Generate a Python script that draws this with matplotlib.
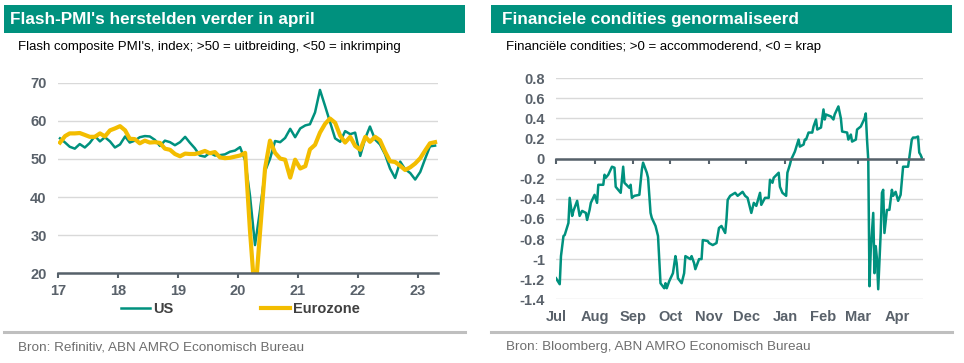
import matplotlib
matplotlib.use("Agg")
import matplotlib.pyplot as plt
import matplotlib.dates as mdates
from matplotlib.lines import Line2D
from matplotlib.patches import Rectangle
import numpy as np
import pandas as pd

plt.rcParams['font.family'] = ['Liberation Sans', 'DejaVu Sans']

# ---- data: flash composite PMI (monthly, jan 2017 - apr 2023)
pmi_us = [55.4, 54.3, 53.2, 52.7, 53.9, 53.0, 54.2, 56.0, 54.6, 55.7, 54.6, 53.0,
          53.8, 55.9, 54.3, 54.8, 55.7, 56.0, 55.9, 55.0, 53.4, 54.8, 54.4, 53.6,
          54.4, 55.8, 54.3, 52.8, 50.9, 50.6, 51.6, 50.9, 51.0, 51.2, 51.9, 52.2,
          53.1, 49.6, 40.5, 27.4, 36.4, 46.8, 50.0, 54.7, 54.4, 55.5, 57.9, 55.7,
          58.0, 58.8, 59.1, 62.2, 68.1, 63.9, 59.7, 55.4, 54.5, 57.3, 56.5, 56.9,
          50.8, 55.5, 58.5, 55.1, 53.8, 51.2, 47.5, 45.0, 49.3, 47.3, 46.3, 44.6,
          46.6, 50.2, 53.3, 53.5]
pmi_ez = [54.3, 56.0, 56.7, 56.7, 56.8, 56.3, 55.8, 55.8, 56.7, 55.9, 57.5, 58.0,
          58.6, 57.5, 55.3, 55.2, 54.1, 54.8, 54.3, 54.4, 54.2, 52.7, 52.4, 51.3,
          50.7, 51.4, 51.3, 51.3, 51.6, 52.1, 51.5, 51.8, 50.4, 50.2, 50.3, 50.6,
          50.9, 51.6, 31.4, 13.5, 30.5, 47.5, 54.8, 51.6, 50.1, 49.8, 45.1, 49.8,
          47.5, 48.1, 52.5, 53.7, 56.9, 59.2, 60.6, 59.5, 56.1, 54.3, 55.8, 53.4,
          52.4, 55.8, 54.5, 55.8, 54.9, 51.9, 49.4, 49.2, 48.2, 47.1, 47.8, 48.8,
          50.2, 52.3, 54.1, 54.4]
pmi_months = pd.date_range("2017-01-01", "2023-04-01", freq="MS") + pd.Timedelta(days=14)
pmi_years = [str(y) for y in range(2017, 2024)]
pmi_yticks = [20, 30, 40, 50, 60, 70]

# ---- data: financiele condities (jul 2022 - apr 2023)
fc_dates = ['2022-07-01', '2022-07-04', '2022-07-05', '2022-07-07', '2022-07-08', '2022-07-11',
            '2022-07-12', '2022-07-14', '2022-07-15', '2022-07-18', '2022-07-20', '2022-07-22',
            '2022-07-25', '2022-07-26', '2022-07-28', '2022-07-29', '2022-08-01', '2022-08-03',
            '2022-08-04', '2022-08-08', '2022-08-09', '2022-08-10', '2022-08-12', '2022-08-15',
            '2022-08-17', '2022-08-18', '2022-08-22', '2022-08-24', '2022-08-25', '2022-08-29',
            '2022-08-30', '2022-08-31', '2022-09-02', '2022-09-06', '2022-09-08', '2022-09-09',
            '2022-09-12', '2022-09-13', '2022-09-15', '2022-09-16', '2022-09-19', '2022-09-21',
            '2022-09-22', '2022-09-23', '2022-09-26', '2022-09-27', '2022-09-28', '2022-09-30',
            '2022-10-03', '2022-10-05', '2022-10-06', '2022-10-07', '2022-10-10', '2022-10-12',
            '2022-10-13', '2022-10-17', '2022-10-18', '2022-10-20', '2022-10-21', '2022-10-24',
            '2022-10-26', '2022-10-27', '2022-10-31', '2022-11-01', '2022-11-04', '2022-11-07',
            '2022-11-09', '2022-11-11', '2022-11-14', '2022-11-15', '2022-11-16', '2022-11-18',
            '2022-11-22', '2022-11-24', '2022-11-28', '2022-11-30', '2022-12-02', '2022-12-05',
            '2022-12-07', '2022-12-09', '2022-12-12', '2022-12-13', '2022-12-16', '2022-12-19',
            '2022-12-20', '2022-12-22', '2022-12-23', '2022-12-27', '2022-12-28', '2022-12-30',
            '2023-01-02', '2023-01-03', '2023-01-05', '2023-01-06', '2023-01-09', '2023-01-12',
            '2023-01-13', '2023-01-16', '2023-01-17', '2023-01-18', '2023-01-20', '2023-01-23',
            '2023-01-24', '2023-01-26', '2023-01-27', '2023-01-30', '2023-02-01', '2023-02-02',
            '2023-02-03', '2023-02-07', '2023-02-09', '2023-02-10', '2023-02-13', '2023-02-15',
            '2023-02-16', '2023-02-20', '2023-02-21', '2023-02-23', '2023-02-24', '2023-02-27',
            '2023-02-28', '2023-03-03', '2023-03-06', '2023-03-07', '2023-03-08', '2023-03-09',
            '2023-03-10', '2023-03-11', '2023-03-13', '2023-03-14', '2023-03-15', '2023-03-16',
            '2023-03-17', '2023-03-19', '2023-03-20', '2023-03-21', '2023-03-22', '2023-03-24',
            '2023-03-26', '2023-03-28', '2023-03-29', '2023-03-31', '2023-04-02', '2023-04-04',
            '2023-04-06', '2023-04-08', '2023-04-10', '2023-04-11', '2023-04-13', '2023-04-14',
            '2023-04-16', '2023-04-18', '2023-04-19', '2023-04-20', '2023-04-21']
fc_values = [-1.19, -1.25, -0.97, -0.77, -0.76, -0.64,
             -0.39, -0.57, -0.52, -0.42, -0.57, -0.52,
             -0.54, -0.61, -0.51, -0.44, -0.36, -0.44,
             -0.26, -0.26, -0.16, -0.19, -0.16, -0.08,
             -0.09, -0.28, -0.34, -0.08, -0.24, -0.29,
             -0.26, -0.39, -0.37, -0.36, -0.11, -0.04,
             -0.14, -0.19, -0.54, -0.59, -0.67, -0.77,
             -1.00, -1.24, -1.29, -1.24, -1.29, -1.22,
             -1.14, -0.97, -1.04, -1.19, -1.24, -1.14,
             -0.97, -1.00, -0.97, -1.04, -1.10, -1.00,
             -1.00, -0.81, -0.82, -0.84, -0.86, -0.84,
             -0.69, -0.67, -0.74, -0.61, -0.41, -0.37,
             -0.34, -0.37, -0.33, -0.37, -0.39, -0.54,
             -0.44, -0.47, -0.34, -0.46, -0.39, -0.39,
             -0.21, -0.24, -0.19, -0.14, -0.28, -0.34,
             -0.37, -0.14, -0.06, -0.01, 0.07, 0.19,
             0.12, 0.14, 0.19, 0.19, 0.26, 0.26,
             0.32, 0.39, 0.29, 0.31, 0.49, 0.39,
             0.44, 0.42, 0.39, 0.44, 0.52, 0.40,
             0.27, 0.26, 0.19, 0.24, 0.17, 0.19,
             0.29, 0.32, 0.40, 0.45, 0.19, -0.01,
             -1.27, -0.91, -0.54, -1.14, -0.87, -1.00,
             -1.30, -0.74, -0.34, -0.31, -0.74, -0.51,
             -0.51, -0.31, -0.37, -0.33, -0.42, -0.36,
             -0.08, -0.08, -0.08, 0.01, 0.19, 0.21,
             0.21, 0.22, 0.06, 0.04, 0.01]
fc_month_labels = ['Jul', 'Aug', 'Sep', 'Oct', 'Nov', 'Dec', 'Jan', 'Feb', 'Mar', 'Apr']
fc_yticks = [-1.4, -1.2, -1, -0.8, -0.6, -0.4, -0.2, 0, 0.2, 0.4, 0.6, 0.8]

# ---- styling
TEAL = '#00917E'
YELLOW = '#F3BD00'
AXIS = '#56616A'
TICKTXT = '#59616A'
GRID = '#D9D9D9'
SEP = '#BFBFBF'
TICKSIZE = 10.5

W, H = 964, 363
fig = plt.figure(figsize=(W / 100, H / 100), dpi=100)


def box(l, t, r, b):
    return [l / W, 1 - b / H, (r - l) / W, (b - t) / H]


def header(x0, x1, tx, title, subtitle, sx, source):
    fig.add_artist(Rectangle((x0 / W, 1 - 33 / H), (x1 - x0) / W, 28 / H,
                             transform=fig.transFigure, color=TEAL, lw=0))
    fig.text(tx / W, 1 - 19.5 / H, title, color='white', fontsize=12.3,
             fontweight='bold', va='center', ha='left')
    fig.text(sx / W, 1 - 47 / H, subtitle, color='black', fontsize=9.5,
             va='center', ha='left')
    fig.add_artist(Line2D([x0 / W, x1 / W], [1 - 332 / H] * 2, color=SEP, lw=2.2,
                          transform=fig.transFigure))
    fig.text(sx / W, 1 - 347 / H, source, color='#6E6E6E', fontsize=9.7,
             va='center', ha='left')


def style(ax):
    for s in ['top', 'right', 'left']:
        ax.spines[s].set_visible(False)
    ax.spines['bottom'].set_color(AXIS)
    ax.spines['bottom'].set_linewidth(1.8)
    ax.grid(axis='y', color=GRID, lw=1)
    ax.set_axisbelow(True)
    ax.tick_params(axis='y', length=0, pad=8, labelsize=TICKSIZE, labelcolor=TICKTXT)
    ax.tick_params(axis='x', length=3.5, width=1.5, color=AXIS, labelsize=TICKSIZE,
                   labelcolor=TICKTXT)
    for lab in ax.get_yticklabels() + ax.get_xticklabels():
        lab.set_fontweight('bold')


# ---- left chart
header(4, 465, 10, "Flash-PMI's herstelden verder in april",
       "Flash composite PMI's, index; >50 = uitbreiding, <50 = inkrimping", 18,
       "Bron: Refinitiv, ABN AMRO Economisch Bureau")

ax1 = fig.add_axes(box(57.7, 82.7, 437.7, 273.3))
ax1.plot(pmi_months, pmi_us, color=TEAL, lw=1.8, label='US')
ax1.plot(pmi_months, pmi_ez, color=YELLOW, lw=3.0, label='Eurozone')
ax1.set_ylim(20, 70)
ax1.set_yticks(pmi_yticks)
ax1.set_xlim(pd.Timestamp('2017-01-01'), pd.Timestamp('2023-05-01'))
ax1.set_xticks([pd.Timestamp(y + '-01-01') for y in pmi_years])
ax1.xaxis.set_major_formatter(mdates.DateFormatter('%y'))
style(ax1)
ax1.tick_params(axis='x', pad=4)
leg = ax1.legend(loc='center', bbox_to_anchor=(0.48, -0.187), ncol=2, frameon=False,
                 handlelength=2.0, handletextpad=0.2, columnspacing=6.0,
                 prop={'weight': 'bold', 'size': TICKSIZE})
for t in leg.get_texts():
    t.set_color('#404040')

# ---- right chart
header(491, 952, 502, "Financiele condities genormaliseerd",
       "Financiële condities; >0 = accommoderend, <0 = krap", 506,
       "Bron: Bloomberg, ABN AMRO Economisch Bureau")

ax2 = fig.add_axes(box(556, 78.3, 923, 299.3))
ax2.plot(pd.to_datetime(fc_dates), fc_values, color=TEAL, lw=1.8)
ax2.set_ylim(-1.4, 0.8)
ax2.set_yticks(fc_yticks)
ax2.set_yticklabels([f'{v:g}' for v in fc_yticks])
month_starts = pd.date_range('2022-07-01', '2023-04-01', freq='MS')
ax2.set_xlim(pd.Timestamp('2022-07-01'), pd.Timestamp('2023-04-22'))
ax2.set_xticks(month_starts)
ax2.spines['bottom'].set_position(('data', 0))
style(ax2)
ax2.tick_params(axis='x', labelbottom=False)
sec = ax2.secondary_xaxis('bottom')
sec.set_xticks(month_starts)
sec.set_xticklabels(fc_month_labels)
sec.spines['bottom'].set_visible(False)
sec.tick_params(axis='x', length=0, pad=8, labelsize=TICKSIZE, labelcolor=TICKTXT)
for lab in sec.get_xticklabels():
    lab.set_fontweight('bold')

fig.savefig('out.png', dpi=100)
